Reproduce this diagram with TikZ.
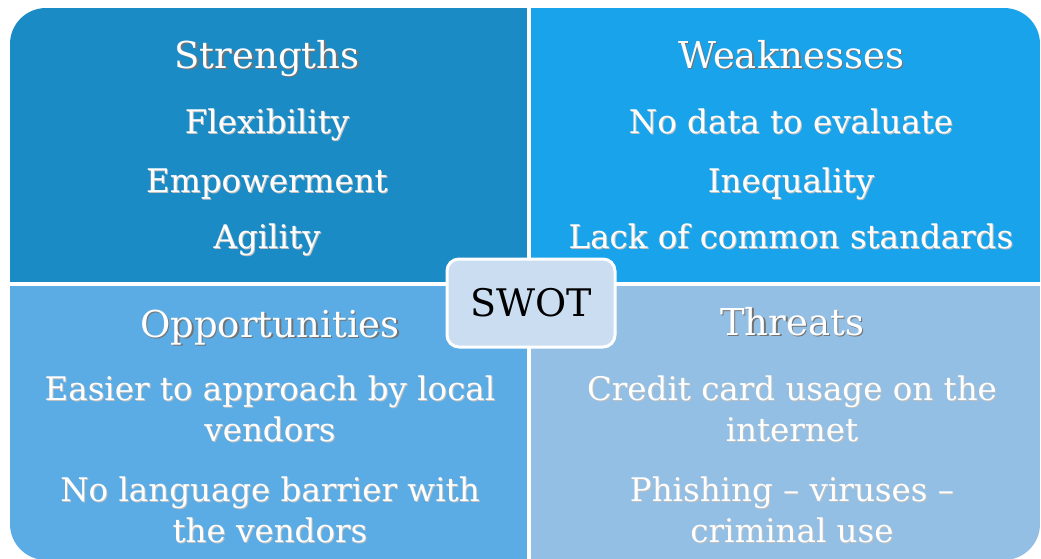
\documentclass[tikz,border=0pt]{standalone}
\usepackage{fontspec}
\setmainfont{DejaVu Serif}
\usetikzlibrary{positioning}
\definecolor{quadS}{RGB}{27,139,198}
\definecolor{quadW}{RGB}{24,163,234}
\definecolor{quadO}{RGB}{91,172,229}
\definecolor{quadT}{RGB}{147,191,228}
\definecolor{swotfill}{RGB}{203,221,240}
\newcommand{\headshadow}[1]{\makebox[0pt][l]{\kern1.6pt\raisebox{-1.6pt}{\color{black!55}#1}}#1}
\newcommand{\itemshadow}[1]{\makebox[0pt][l]{\kern1pt\raisebox{-1pt}{\color{black!25}#1}}#1}
\tikzset{
    headnode/.style = {anchor=base, text=white, inner sep=0pt, font=\fontsize{37}{40}\selectfont},
    itemnode/.style = {anchor=base, text=white, inner sep=0pt, align=center, font=\fontsize{32.5}{41}\selectfont},
    swotbox/.style = {rectangle, rounded corners=12pt, draw=white, line width=3pt, fill=swotfill,
        minimum width=168pt, minimum height=88pt, font=\fontsize{38}{40}\selectfont},
    gap/.style = {white, line width=4pt}
}
\begin{document}
\begin{tikzpicture}[x=1pt,y=-1pt]
  \useasboundingbox (0,0) rectangle (1041,558);

  % quadrants
  \begin{scope}
    \clip[rounded corners=36pt] (10,8) rectangle (1040,560);
    \fill[quadS] (10,8) rectangle (529,283.5);
    \fill[quadW] (529,8) rectangle (1040,283.5);
    \fill[quadO] (10,283.5) rectangle (529,560);
    \fill[quadT] (529,283.5) rectangle (1040,560);
    \draw[gap] (529,0) -- (529,560);
    \draw[gap] (0,283.5) -- (1041,283.5);
  \end{scope}

  \node[headnode] (strengths) at (267,68) {\headshadow{Strengths}};
  \node[itemnode] (flexibility) at (267,133) {\itemshadow{Flexibility}};
  \node[itemnode] (empowerment) at (267,192) {\itemshadow{Empowerment}};
  \node[itemnode] (agility) at (267,248) {\itemshadow{Agility}};

  \node[headnode] (weaknesses) at (791,68) {\headshadow{Weaknesses}};
  \node[itemnode] (nodata) at (791,133) {\itemshadow{No data to evaluate}};
  \node[itemnode] (inequality) at (791,192) {\itemshadow{Inequality}};
  \node[itemnode] (standards) at (791,248) {\itemshadow{Lack of common standards}};

  % wrapped items: base is the last line
  \node[headnode] (opportunities) at (270,337) {\headshadow{Opportunities}};
  \node[itemnode] (vendors) at (270,441) {\itemshadow{Easier to approach by local}\\\itemshadow{vendors}};
  \node[itemnode] (language) at (270,542) {\itemshadow{No language barrier with}\\\itemshadow{the vendors}};

  \node[headnode] (threats) at (792,335) {\headshadow{Threats}};
  \node[itemnode] (creditcard) at (792,441) {\itemshadow{Credit card usage on the}\\\itemshadow{internet}};
  \node[itemnode] (phishing) at (792,542) {\itemshadow{Phishing – viruses –}\\\itemshadow{criminal use}};

  \node[swotbox] (swot) at (531,303) {SWOT};
\end{tikzpicture}
\end{document}
